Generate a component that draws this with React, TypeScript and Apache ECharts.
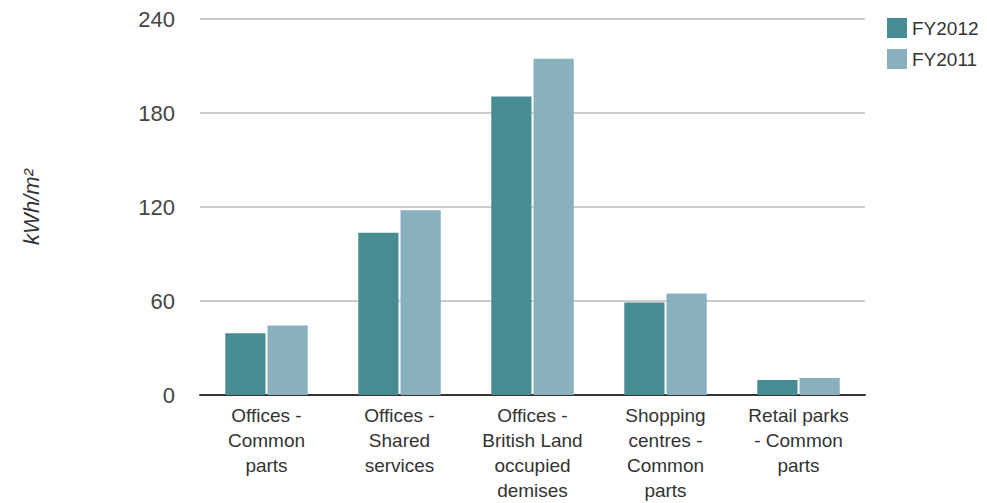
import React, { useEffect, useRef } from "react";
import * as echarts from "echarts";

const categories = [
  "Offices -\nCommon\nparts",
  "Offices -\nShared\nservices",
  "Offices -\nBritish Land\noccupied\ndemises",
  "Shopping\ncentres -\nCommon\nparts",
  "Retail parks\n- Common\nparts",
];
const fy2012 = [39.4, 103.5, 190.5, 59, 9.5];
const fy2011 = [44.4, 118, 214.6, 64.8, 10.8];
const yTicks = [0, 60, 120, 180, 240];

export default function App() {
  const ref = useRef<HTMLDivElement>(null);
  useEffect(() => {
    if (!ref.current) return;
    const chart = echarts.init(ref.current, null, { renderer: "svg" });
    const font = "'Liberation Sans', Arial, Helvetica, sans-serif";
    chart.setOption({
      animation: false,
      textStyle: { fontFamily: font },
      grid: { left: 200, right: 122, top: 19, bottom: 106, containLabel: false },
      legend: {
        orient: "vertical",
        left: 882,
        top: 13,
        itemWidth: 20,
        itemHeight: 20,
        itemGap: 11,
        icon: "rect",
        textStyle: { fontSize: 19, color: "#333", fontFamily: font },
        data: ["FY2012", "FY2011"],
      },
      xAxis: {
        type: "category",
        data: categories,
        axisLine: { lineStyle: { color: "#333", width: 2 } },
        axisTick: { show: false },
        axisLabel: {
          fontSize: 19,
          lineHeight: 25,
          color: "#333",
          margin: 8,
          interval: 0,
          fontFamily: font,
        },
      },
      yAxis: {
        type: "value",
        min: yTicks[0],
        max: yTicks[yTicks.length - 1],
        interval: 60,
        name: "kWh/m²",
        nameLocation: "middle",
        nameGap: 158,
        nameTextStyle: { fontSize: 22, fontStyle: "italic", color: "#333", fontFamily: font },
        axisLine: { show: false },
        axisTick: { show: false },
        splitLine: { lineStyle: { color: "#cccccc", width: 2 } },
        axisLabel: { fontSize: 22, color: "#444", margin: 25, fontFamily: font },
      },
      series: [
        {
          name: "FY2012",
          type: "bar",
          data: fy2012,
          itemStyle: { color: "#488c93" },
          barGap: "5%",
          barCategoryGap: "38%",
        },
        {
          name: "FY2011",
          type: "bar",
          data: fy2011,
          itemStyle: { color: "#88b0bd" },
          barGap: "5%",
          barCategoryGap: "38%",
        },
      ],
    });
    return () => chart.dispose();
  }, []);
  return (
    <div
      ref={ref}
      style={{ position: "fixed", left: 0, top: 0, width: 987, height: 503, background: "#fff" }}
    />
  );
}
